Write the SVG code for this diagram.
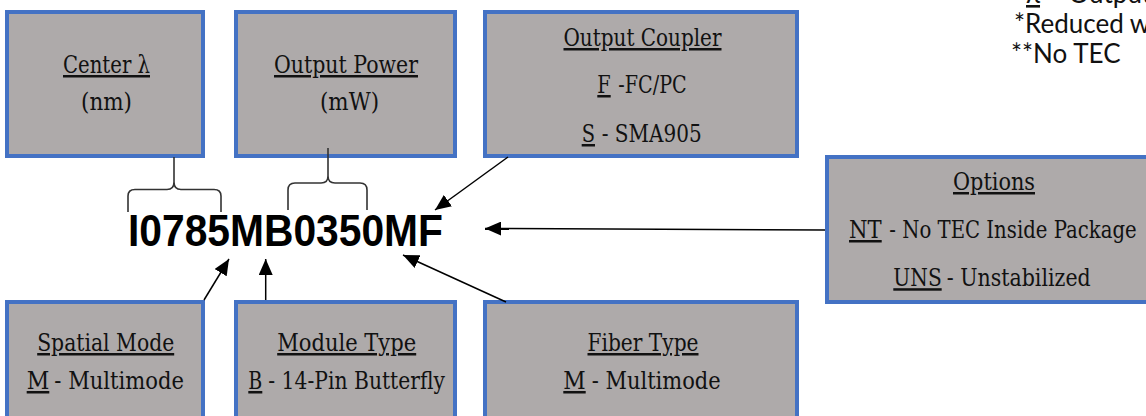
<svg xmlns="http://www.w3.org/2000/svg" width="1146" height="416" viewBox="0 0 1146 416">
<defs>
<style>
.box{fill:#AEAAAA;stroke:#4472C4;stroke-width:4}
.t{font-family:"DejaVu Serif","Liberation Serif",serif;font-size:25px;fill:#111;text-anchor:middle}
.s{text-anchor:start}
.u{text-decoration:underline}
.code{font-family:"Liberation Sans",Arial,sans-serif;font-weight:bold;font-size:45px;fill:#000}
.note{font-family:Lato,"Noto Sans",sans-serif;font-size:26px;fill:#111}
.ln{stroke:#000;stroke-width:1.5;fill:none}
.br{stroke:#333;stroke-width:1.6;fill:none}
</style>
<marker id="ah" viewBox="0 0 16 14" refX="16" refY="7" markerWidth="16" markerHeight="14" markerUnits="userSpaceOnUse" orient="auto"><path d="M0,0 L16,7 L0,14 z" fill="#000"/></marker>
</defs>
<rect width="1146" height="416" fill="#fff"/>
<g id="notes">
<text class="note" x="1026" y="3"><tspan class="u">λ</tspan> – Output</text>
<text class="note" x="1014" y="33">*Reduced w</text>
<text class="note" x="1011" y="63">**No TEC</text>
</g>
<g id="center-wavelength">
<rect class="box" x="7" y="12" width="196" height="144"/>
<text class="t u" x="106.5" y="73" textLength="87" lengthAdjust="spacingAndGlyphs">Center λ</text>
<text class="t" x="106.5" y="110" textLength="51" lengthAdjust="spacingAndGlyphs">(nm)</text>
</g>
<g id="output-power">
<rect class="box" x="236" y="12" width="219" height="144"/>
<text class="t u" x="346" y="73" textLength="144" lengthAdjust="spacingAndGlyphs">Output Power</text>
<text class="t" x="349.5" y="110" textLength="59" lengthAdjust="spacingAndGlyphs">(mW)</text>
</g>
<g id="output-coupler">
<rect class="box" x="485" y="12" width="312" height="144"/>
<text class="t u" x="642.5" y="46" textLength="158" lengthAdjust="spacingAndGlyphs">Output Coupler</text>
<text class="t s u" x="597.3" y="93" textLength="13.4" lengthAdjust="spacingAndGlyphs">F</text>
<text class="t s" x="618.3" y="93" textLength="68.4" lengthAdjust="spacingAndGlyphs">-FC/PC</text>
<text class="t s u" x="581.7" y="142" textLength="13.3" lengthAdjust="spacingAndGlyphs">S</text>
<text class="t s" x="601.7" y="142" textLength="100" lengthAdjust="spacingAndGlyphs">- SMA905</text>
</g>
<g id="options">
<rect class="box" x="827" y="157" width="400" height="145"/>
<text class="t u" x="994" y="190" textLength="82" lengthAdjust="spacingAndGlyphs">Options</text>
<text class="t s u" x="849" y="238" textLength="32.7" lengthAdjust="spacingAndGlyphs">NT</text>
<text class="t s" x="889.3" y="238" textLength="247.4" lengthAdjust="spacingAndGlyphs">- No TEC Inside Package</text>
<text class="t s u" transform="translate(893.3,286) scale(0.806,1)" x="0" y="0">UNS</text>
<text class="t s" x="946.7" y="286" textLength="144" lengthAdjust="spacingAndGlyphs">- Unstabilized</text>
</g>
<g id="spatial-mode">
<rect class="box" x="7" y="302" width="196" height="200"/>
<text class="t u" x="105.7" y="351" textLength="137" lengthAdjust="spacingAndGlyphs">Spatial Mode</text>
<text class="t s u" x="26.7" y="389" textLength="22.6" lengthAdjust="spacingAndGlyphs">M</text>
<text class="t s" x="54.3" y="389" textLength="129.7" lengthAdjust="spacingAndGlyphs">- Multimode</text>
</g>
<g id="module-type">
<rect class="box" x="236" y="302" width="219" height="200"/>
<text class="t u" x="346.7" y="351" textLength="139" lengthAdjust="spacingAndGlyphs">Module Type</text>
<text class="t s u" x="248.3" y="389" textLength="14" lengthAdjust="spacingAndGlyphs">B</text>
<text class="t s" x="268.3" y="389" textLength="176.7" lengthAdjust="spacingAndGlyphs">- 14-Pin Butterfly</text>
</g>
<g id="fiber-type">
<rect class="box" x="485" y="302" width="312" height="200"/>
<text class="t u" x="643" y="351" textLength="111" lengthAdjust="spacingAndGlyphs">Fiber Type</text>
<text class="t s u" x="563.3" y="389" textLength="22.4" lengthAdjust="spacingAndGlyphs">M</text>
<text class="t s" x="591.7" y="389" textLength="129" lengthAdjust="spacingAndGlyphs">- Multimode</text>
</g>
<g id="part-number">
<text class="code" x="128" y="246" textLength="315" lengthAdjust="spacingAndGlyphs">I0785MB0350MF</text>
</g>
<g id="connectors">
<path class="br" d="M128,212 V196 Q128,189.5 135,189.5 H167 Q174,189.5 174,182 V157 M174,182 Q174,189.5 181,189.5 H214 Q221,189.5 221,196 V212"/>
<path class="br" d="M288,210 V190 Q288,183 295,183 H321 Q328,183 328,176 V148 M328,176 Q328,183 335,183 H360 Q367,183 367,190 V210"/>
<line class="ln" x1="508" y1="157" x2="435" y2="210" marker-end="url(#ah)"/>
<line class="ln" x1="825" y1="230" x2="485" y2="228.5" marker-end="url(#ah)"/>
<line class="ln" x1="506" y1="302" x2="403" y2="255" marker-end="url(#ah)"/>
<line class="ln" x1="204" y1="300" x2="229" y2="259" marker-end="url(#ah)"/>
<line class="ln" x1="265.7" y1="300" x2="265.7" y2="259" marker-end="url(#ah)"/>
</g>
</svg>
